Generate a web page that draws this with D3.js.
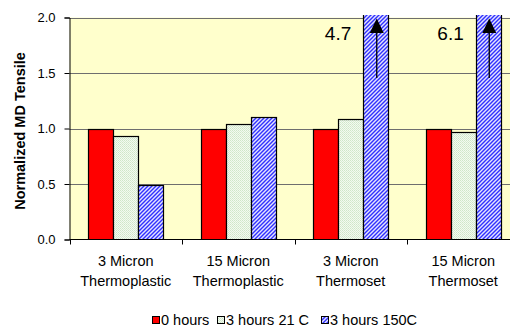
<!DOCTYPE html>
<html>
<head>
<meta charset="utf-8">
<script src="https://cdn.jsdelivr.net/npm/d3@7"></script>
<style>
  html, body { margin: 0; padding: 0; background: #fff; }
  svg { display: block; font-family: Arial, "Liberation Sans", sans-serif; }
</style>
</head>
<body>
<svg id="chart" width="510" height="329"></svg>
<script>
// Category labels, two lines each
const categoryLine1 = ["3 Micron", "15 Micron", "3 Micron", "15 Micron"];
const categoryLine2 = ["Thermoplastic", "Thermoplastic", "Thermoset", "Thermoset"];
const seriesNames = ["0 hours", "3 hours 21 C", "3 hours 150C"];

// Normalized MD tensile per category
const hours0 = [1.0, 1.0, 1.0, 1.0];
const hours3At21C = [0.93, 1.04, 1.085, 0.965];
const hours3At150C = [0.49, 1.10, 4.7, 6.1];

const yTicks = [0.0, 0.5, 1.0, 1.5, 2.0];
// Off-scale values called out with an arrow
const offScaleCategories = [2, 3];

const seriesValues = [hours0, hours3At21C, hours3At150C];

const svg = d3.select("#chart");
const plot = { left: 69.5, right: 519.5, top: 17.5, bottom: 239.5 };

const x = d3.scaleBand().domain(d3.range(categoryLine1.length))
  .range([plot.left, plot.right]).paddingInner(0).paddingOuter(0);
const xSub = d3.scaleBand().domain(d3.range(seriesNames.length))
  .range([0, x.bandwidth()]).paddingInner(0).paddingOuter(0.75);
const y = d3.scaleLinear().domain([0, 2]).range([plot.bottom, plot.top]);

const defs = svg.append("defs");
// fine green dot fill
const pg = defs.append("pattern").attr("id", "pGreen").attr("patternUnits", "userSpaceOnUse")
  .attr("width", 2).attr("height", 2);
pg.append("rect").attr("width", 2).attr("height", 2).attr("fill", "#f3faf0");
pg.append("rect").attr("x", 0).attr("y", 0).attr("width", 1).attr("height", 1).attr("fill", "#cfe6c9");
pg.append("rect").attr("x", 1).attr("y", 1).attr("width", 1).attr("height", 1).attr("fill", "#d9ecd4");
// blue diagonal hatch fill
const pb = defs.append("pattern").attr("id", "pBlue").attr("patternUnits", "userSpaceOnUse")
  .attr("width", 4).attr("height", 4);
pb.append("rect").attr("width", 4).attr("height", 4).attr("fill", "#e4e4ff");
pb.append("path")
  .attr("d", "M-1,3 L3,-1 M-1,7 L7,-1 M3,5 L5,3")
  .attr("stroke", "#3030ff").attr("stroke-width", 1.4).attr("fill", "none");
defs.append("clipPath").attr("id", "plotClip").append("rect")
  .attr("x", plot.left).attr("y", plot.top - 2.5)
  .attr("width", plot.right - plot.left).attr("height", plot.bottom - plot.top + 2.5);

const fills = ["#ff0000", "url(#pGreen)", "url(#pBlue)"];

// plot background
svg.append("rect").attr("x", plot.left).attr("y", plot.top)
  .attr("width", plot.right - plot.left).attr("height", plot.bottom - plot.top)
  .attr("fill", "#ffffcc");

// gridlines
svg.append("g").selectAll("line").data(yTicks.filter(d => d > 0)).join("line")
  .attr("x1", plot.left).attr("x2", plot.right)
  .attr("y1", d => Math.round(y(d)) + 0.5).attr("y2", d => Math.round(y(d)) + 0.5)
  .attr("stroke", "#6e6e6e").attr("stroke-width", 1);

// bars
const bars = svg.append("g").attr("clip-path", "url(#plotClip)");
seriesValues.forEach((vals, s) => {
  bars.append("g").selectAll("rect").data(vals).join("rect")
    .attr("x", (d, i) => Math.round(x(i) + xSub(s)) + 0.5)
    .attr("y", d => Math.round(y(d)) + 0.5)
    .attr("width", xSub.bandwidth())
    .attr("height", d => Math.round(y(0)) - Math.round(y(d)))
    .attr("fill", fills[s])
    .attr("stroke", "#000").attr("stroke-width", 1.2);
});

// axes
const yAxis = d3.axisLeft(y).tickValues(yTicks).tickFormat(d3.format(".1f")).tickSize(5).tickPadding(9);
const gy = svg.append("g").attr("transform", `translate(${plot.left},0)`).call(yAxis);
gy.select(".domain").attr("stroke", "#000");
gy.selectAll(".tick line").attr("stroke", "#000");
gy.selectAll("text").attr("font-size", 13).attr("fill", "#000").attr("font-family", "Arial, 'Liberation Sans', sans-serif");

const xTickPos = d3.range(categoryLine1.length + 1).map(i => plot.left + i * x.step());
svg.append("line").attr("x1", plot.left).attr("x2", plot.right)
  .attr("y1", plot.bottom).attr("y2", plot.bottom).attr("stroke", "#000");
svg.append("g").selectAll("line").data(xTickPos).join("line")
  .attr("x1", d => Math.round(d) + 0.5).attr("x2", d => Math.round(d) + 0.5)
  .attr("y1", plot.bottom).attr("y2", plot.bottom + 5).attr("stroke", "#000");

const xl = svg.append("g").attr("font-size", 14.5).attr("text-anchor", "middle").attr("fill", "#000");
categoryLine1.forEach((t, i) => {
  const cx = x(i) + x.bandwidth() / 2;
  xl.append("text").attr("x", cx).attr("y", 266).text(t);
  xl.append("text").attr("x", cx).attr("y", 286).text(categoryLine2[i]);
});

// y title
svg.append("text").attr("transform", "translate(25,131) rotate(-90)")
  .attr("text-anchor", "middle").attr("font-size", 14.5).attr("font-weight", "bold")
  .text("Normalized MD Tensile");

// off-scale callouts
offScaleCategories.forEach(i => {
  const bx = x(i) + xSub(2) + xSub.bandwidth() / 2 + 1;
  const tip = y(1.99), base = y(1.86);
  svg.append("line").attr("x1", bx).attr("x2", bx)
    .attr("y1", y(1.455)).attr("y2", base)
    .attr("stroke", "#000").attr("stroke-width", 1.3);
  svg.append("path")
    .attr("d", `M${bx},${tip} L${bx - 7},${base} L${bx + 7},${base} Z`)
    .attr("fill", "#000");
  svg.append("text").attr("x", x(i) + xSub(2) - 12).attr("y", 40)
    .attr("text-anchor", "end").attr("font-size", 19).attr("fill", "#000")
    .text(d3.format(".1f")(hours3At150C[i]));
});

// legend
const legendX = [152, 217, 321];
const lg = svg.append("g");
seriesNames.forEach((n, s) => {
  lg.append("rect").attr("x", legendX[s] + 0.5).attr("y", 316.5).attr("width", 7).attr("height", 7)
    .attr("fill", fills[s]).attr("stroke", "#000").attr("stroke-width", 1);
  lg.append("text").attr("x", legendX[s] + 9).attr("y", 325).attr("font-size", 14.5).text(n);
});
</script>
</body>
</html>
